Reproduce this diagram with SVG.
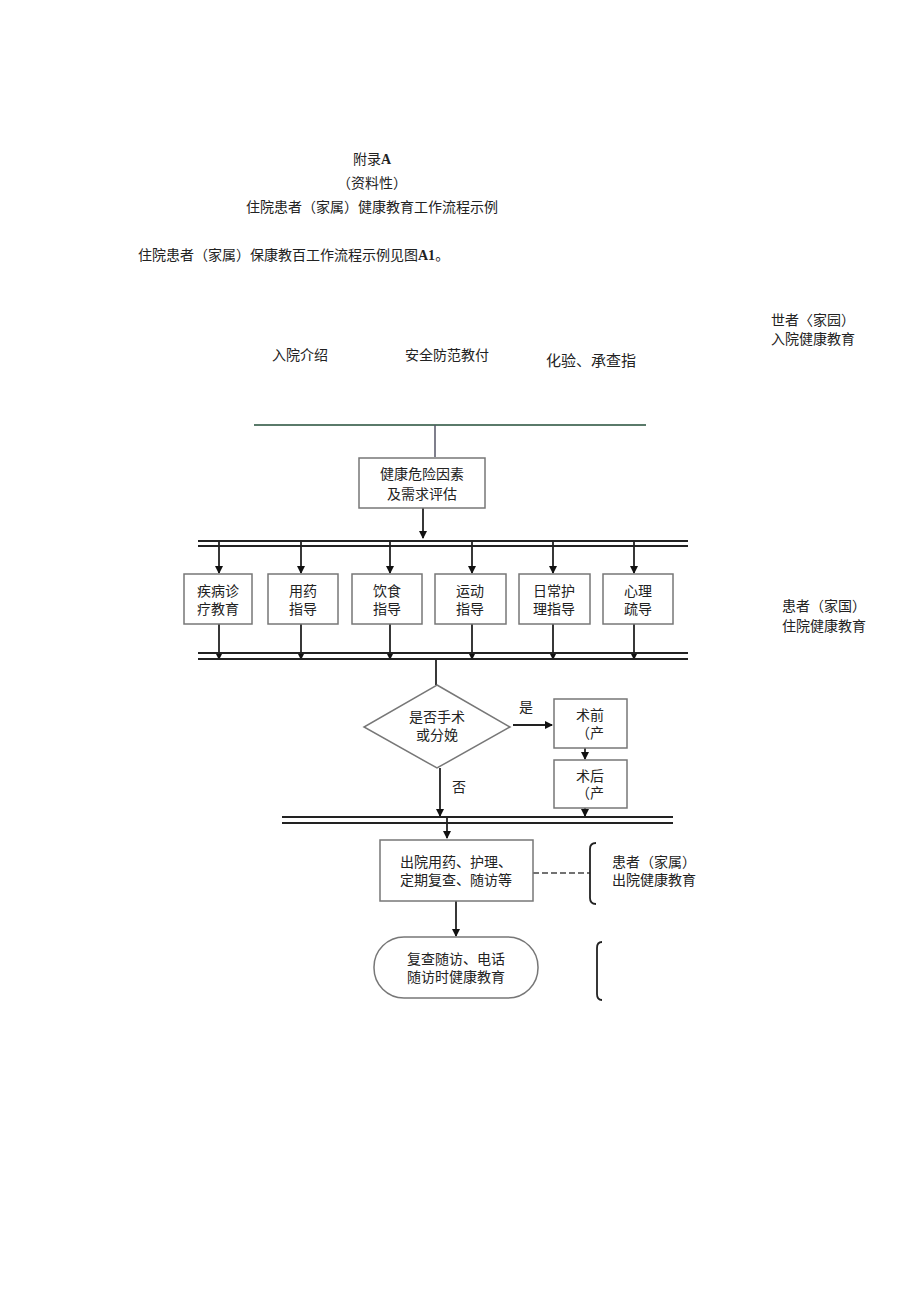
<svg xmlns="http://www.w3.org/2000/svg" width="920" height="1301" viewBox="0 0 920 1301">
<style>
text{font-family:"Liberation Serif","Noto Sans CJK SC",serif;font-size:14px;fill:#222}
.b{fill:#fff;stroke:#777;stroke-width:1.5}
.l{stroke:#222;stroke-width:1.8;fill:none}
.c{text-anchor:middle}
</style>
<defs><marker id="a" markerWidth="8" markerHeight="8" refX="7" refY="4" orient="auto" markerUnits="userSpaceOnUse"><path d="M0,0L8,4L0,8z" fill="#111"/></marker></defs>
<rect width="920" height="1301" fill="#fff"/>
<text x="372" y="164" class="c">附录<tspan font-weight="bold">A</tspan></text>
<text x="372" y="188" class="c">（资料性）</text>
<text x="372" y="212" class="c">住院患者（家属）健康教育工作流程示例</text>
<text x="138" y="260">住院患者（家属）保康教百工作流程示例见图<tspan font-weight="bold">A1</tspan>。</text>
<text x="771" y="325">世者〈家园）</text>
<text x="771" y="344">入院健康教育</text>
<text x="272" y="360">入院介绍</text>
<text x="405" y="360">安全防范教付</text>
<text x="546" y="366" style="font-family:'Liberation Sans','Noto Sans CJK SC',sans-serif;font-size:15px">化验、承查指</text>
<text x="782" y="611">患者（家国）</text>
<text x="782" y="631">住院健康教育</text>
<g id="connectors">
<line x1="254" y1="425" x2="646" y2="425" stroke="#5a7a6a" stroke-width="2"/>
<line x1="435" y1="425" x2="435" y2="457" stroke="#556" stroke-width="1.5"/>
<line class="l" x1="423" y1="508" x2="423" y2="538" marker-end="url(#a)"/>
<line class="l" x1="198" y1="541" x2="688" y2="541"/>
<line class="l" x1="198" y1="546" x2="688" y2="546"/>
<g class="l">
<line x1="219" y1="541" x2="219" y2="573" marker-end="url(#a)"/>
<line x1="301" y1="541" x2="301" y2="573" marker-end="url(#a)"/>
<line x1="390" y1="541" x2="390" y2="573" marker-end="url(#a)"/>
<line x1="472" y1="541" x2="472" y2="573" marker-end="url(#a)"/>
<line x1="553" y1="541" x2="553" y2="573" marker-end="url(#a)"/>
<line x1="634" y1="541" x2="634" y2="573" marker-end="url(#a)"/>
<line x1="219" y1="624" x2="219" y2="659" marker-end="url(#a)"/>
<line x1="301" y1="624" x2="301" y2="659" marker-end="url(#a)"/>
<line x1="390" y1="624" x2="390" y2="659" marker-end="url(#a)"/>
<line x1="472" y1="624" x2="472" y2="659" marker-end="url(#a)"/>
<line x1="553" y1="624" x2="553" y2="659" marker-end="url(#a)"/>
<line x1="634" y1="624" x2="634" y2="659" marker-end="url(#a)"/>
</g>
<line class="l" x1="198" y1="653" x2="688" y2="653"/>
<line class="l" x1="198" y1="659" x2="688" y2="659"/>
<line class="l" x1="436" y1="659" x2="436" y2="685"/>
<line class="l" x1="513" y1="725" x2="552" y2="725" marker-end="url(#a)"/>
<line class="l" x1="585" y1="748" x2="585" y2="759" marker-end="url(#a)"/>
<line class="l" x1="440" y1="768" x2="440" y2="816" marker-end="url(#a)"/>
<line class="l" x1="585" y1="808" x2="585" y2="816" marker-end="url(#a)"/>
<line class="l" x1="282" y1="817" x2="673" y2="817"/>
<line class="l" x1="282" y1="823" x2="673" y2="823"/>
<line class="l" x1="447" y1="817" x2="447" y2="838" marker-end="url(#a)"/>
<line x1="533" y1="873" x2="590" y2="873" stroke="#444" stroke-width="1.5" stroke-dasharray="6,3"/>
<line class="l" x1="456" y1="901" x2="456" y2="936" marker-end="url(#a)"/>
<path d="M596,843q-6,0-6,6v49q0,6,6,6" class="l" stroke-width="1.5"/>
<path d="M602,942q-5,0-5,6v46q0,6,5,6" class="l" stroke-width="1.5"/>
</g>
<text x="519" y="712">是</text>
<text x="452" y="792">否</text>
<g id="n1"><rect class="b" x="359" y="458" width="126" height="50"/><text x="422" y="479" class="c">健康危险因素</text><text x="422" y="499" class="c">及需求评估</text></g>
<g id="n2"><rect class="b" x="184" y="574" width="68" height="50"/><text x="218" y="596" class="c">疾病诊</text><text x="218" y="614" class="c">疗教育</text></g>
<g id="n3"><rect class="b" x="268" y="574" width="70" height="50"/><text x="303" y="596" class="c">用药</text><text x="303" y="614" class="c">指导</text></g>
<g id="n4"><rect class="b" x="352" y="574" width="70" height="50"/><text x="387" y="596" class="c">饮食</text><text x="387" y="614" class="c">指导</text></g>
<g id="n5"><rect class="b" x="435" y="574" width="71" height="50"/><text x="470" y="596" class="c">运动</text><text x="470" y="614" class="c">指导</text></g>
<g id="n6"><rect class="b" x="519" y="574" width="71" height="50"/><text x="554" y="596" class="c">日常护</text><text x="554" y="614" class="c">理指导</text></g>
<g id="n7"><rect class="b" x="603" y="574" width="70" height="50"/><text x="638" y="596" class="c">心理</text><text x="638" y="614" class="c">疏导</text></g>
<g id="n8"><polygon class="b" points="437,685 510,727 437,768 364,727"/><text x="437" y="722" class="c">是否手术</text><text x="437" y="740" class="c">或分娩</text></g>
<g id="n9"><rect class="b" x="554" y="699" width="73" height="49"/><text x="590" y="720" class="c">术前</text><text x="590" y="738" class="c">（产</text></g>
<g id="n10"><rect class="b" x="554" y="760" width="73" height="48"/><text x="590" y="781" class="c">术后</text><text x="590" y="798" class="c">（产</text></g>
<g id="n11"><rect class="b" x="380" y="840" width="153" height="61"/><text x="456" y="867" class="c">出院用药、护理、</text><text x="456" y="885" class="c">定期复查、随访等</text></g>
<text x="612" y="867">患者（家属）</text>
<text x="612" y="885">出院健康教育</text>
<g id="n12"><rect class="b" x="374" y="937" width="164" height="61" rx="30"/><text x="456" y="964" class="c">复查随访、电话</text><text x="456" y="982" class="c">随访时健康教育</text></g>
</svg>
